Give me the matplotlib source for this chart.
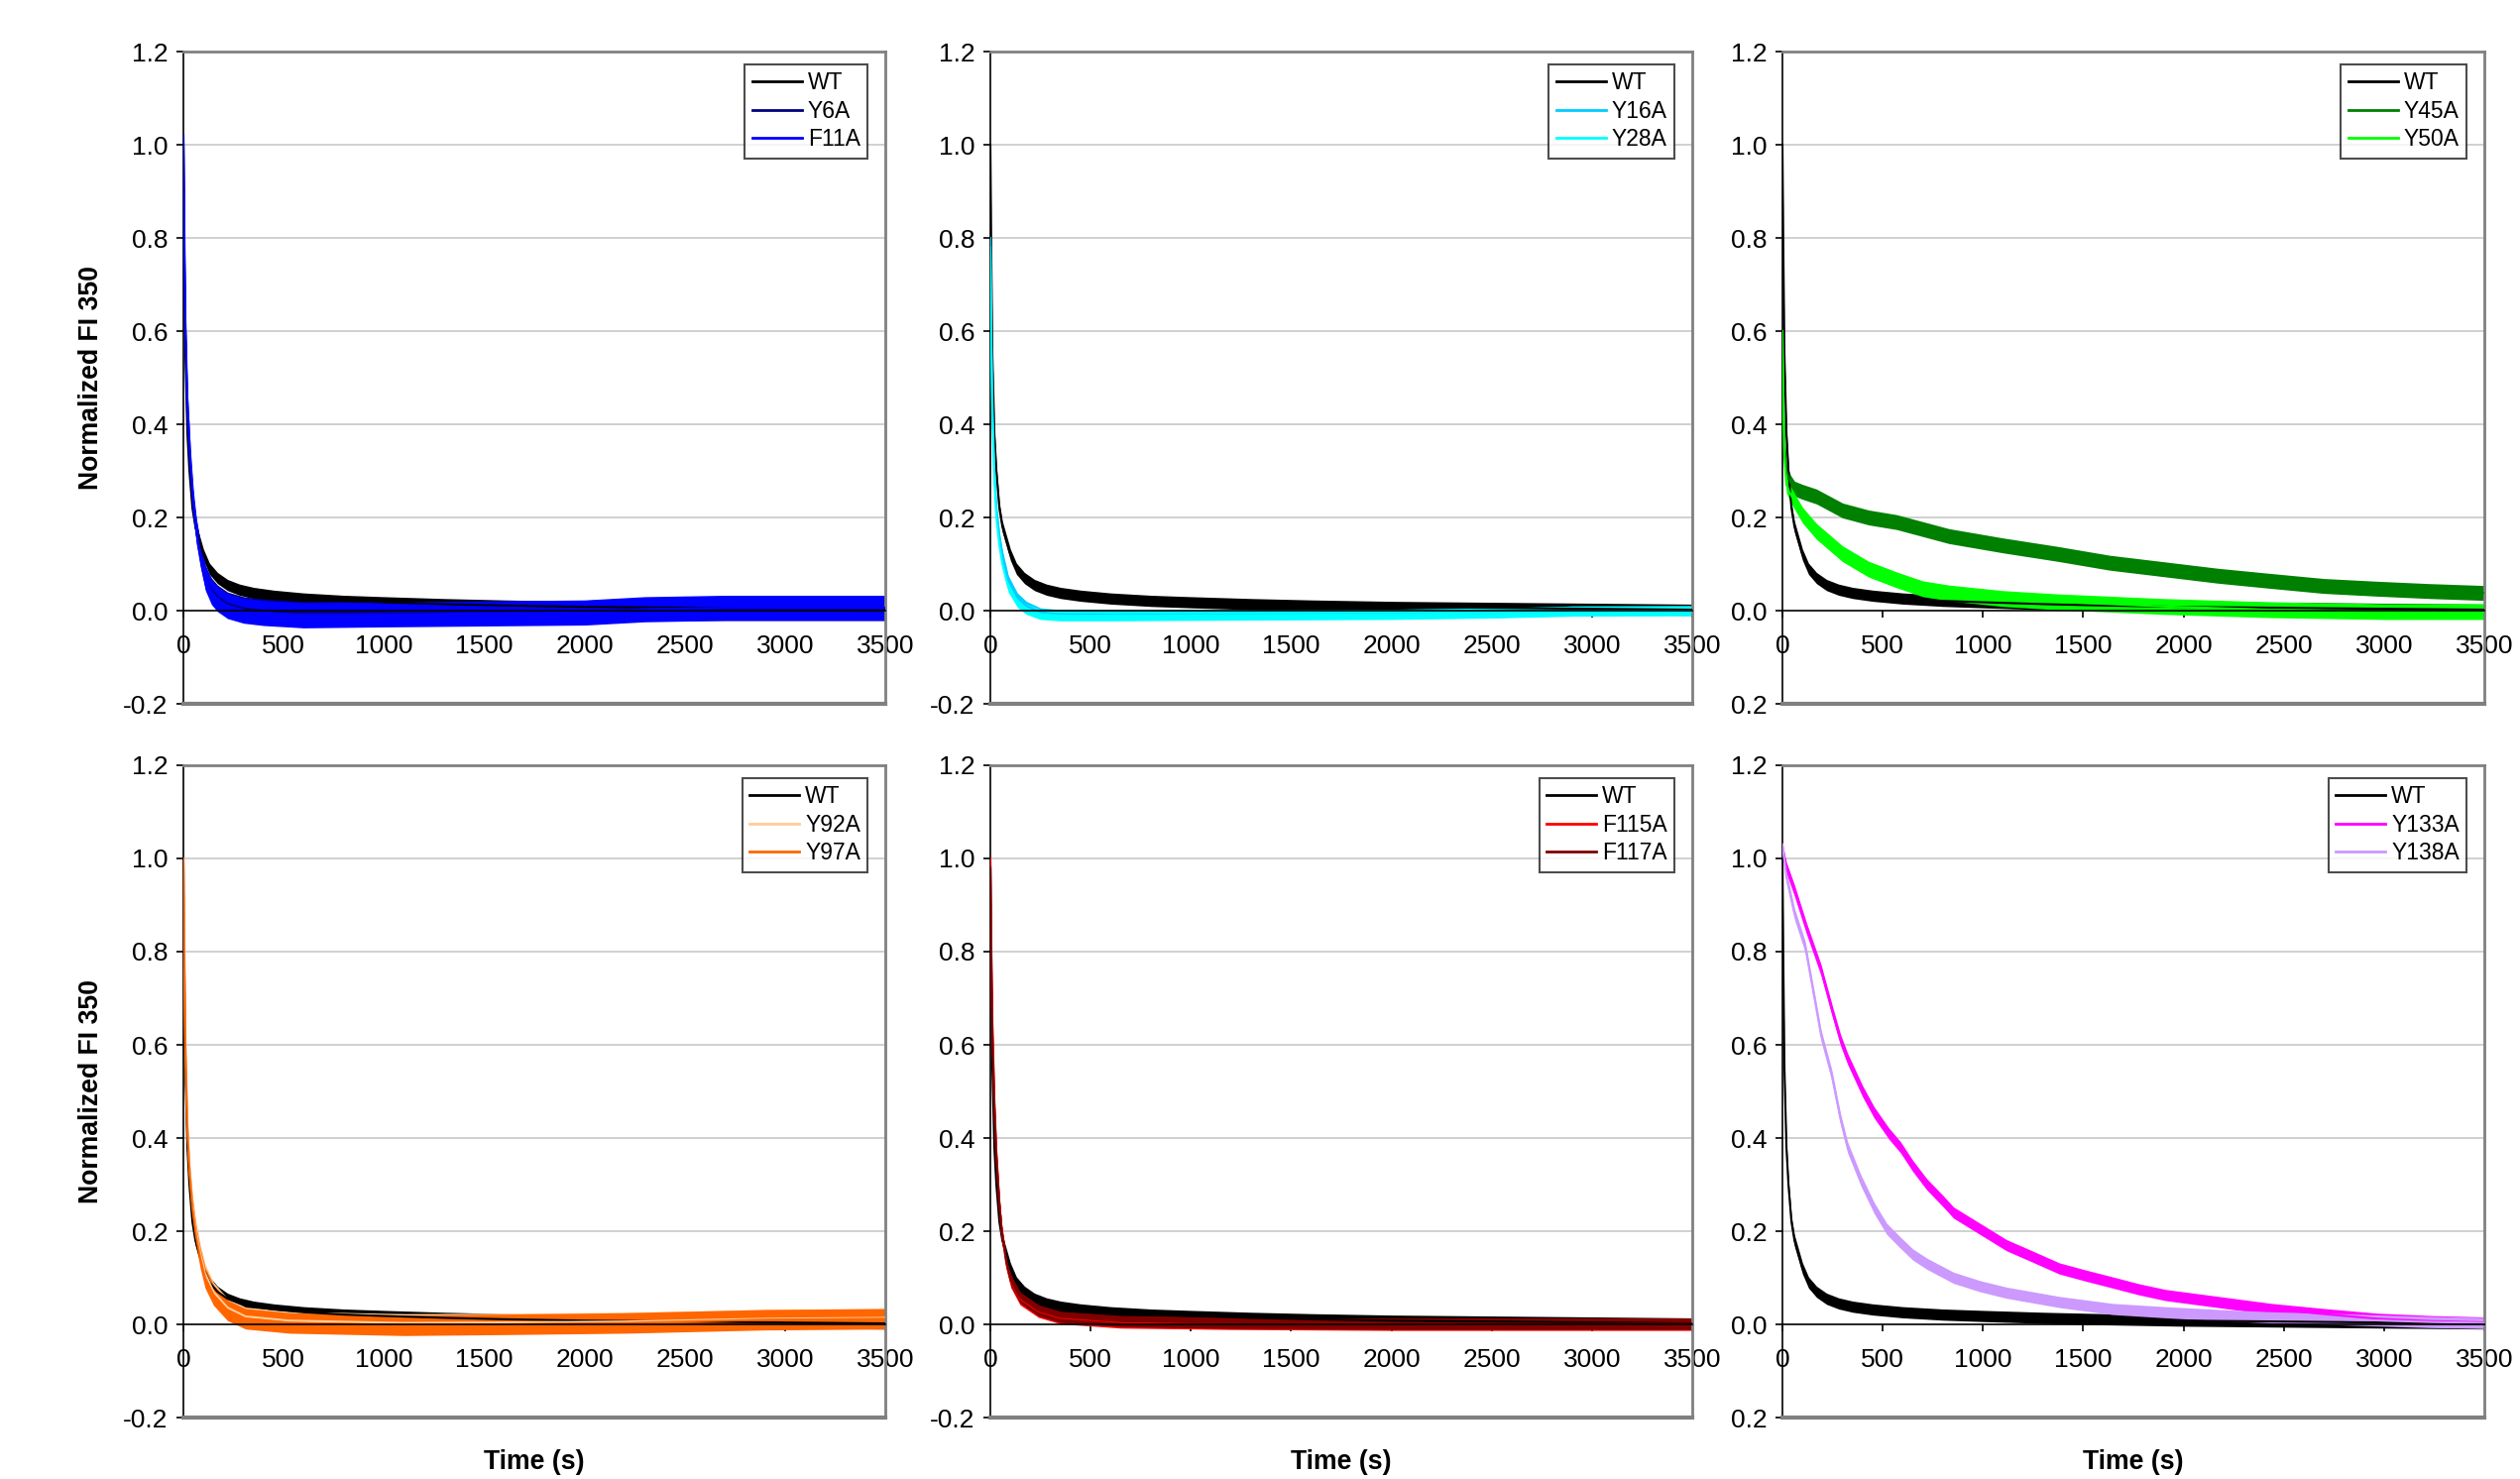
import numpy as np
import matplotlib.pyplot as plt

plt.rcParams['font.family'] = ['Liberation Sans', 'DejaVu Sans']

# ---- data (time in s, normalized FI 350) ----
wt_t = [0, 5, 10, 20, 30, 45, 60, 80, 100, 130, 170, 220, 280, 350, 450,
        600, 800, 1000, 1300, 1600, 2000, 2500, 3000, 3500]
wt_v = [1.0, 0.75, 0.55, 0.38, 0.3, 0.22, 0.18, 0.15, 0.12, 0.09, 0.07, 0.055,
        0.045, 0.038, 0.032, 0.026, 0.021, 0.018, 0.014, 0.011, 0.008, 0.006,
        0.004, 0.002]

y6a_t = [0, 5, 10, 20, 35, 50, 65, 85, 110, 140, 170, 220, 300, 400, 600,
         1000, 1500, 2000, 2300, 2700, 3100, 3500]
y6a_v = [1.02, 0.75, 0.6, 0.42, 0.3, 0.22, 0.17, 0.12, 0.07, 0.045, 0.03,
         0.015, 0.005, 0.0, -0.005, -0.005, -0.005, -0.003, 0.003, 0.004,
         0.004, 0.004]
f11a_t = y6a_t
f11a_v = [1.02, 0.8, 0.62, 0.45, 0.32, 0.23, 0.17, 0.12, 0.07, 0.04, 0.025,
          0.01, 0.0, -0.005, -0.01, -0.008, -0.006, -0.004, 0.003, 0.006,
          0.006, 0.006]

y16a_t = [0, 5, 10, 20, 30, 45, 60, 90, 135, 180, 250, 350, 600, 1000, 1500,
          2000, 2500, 2900, 3500]
y16a_v = [0.8, 0.6, 0.45, 0.3, 0.22, 0.16, 0.12, 0.065, 0.028, 0.01, -0.004,
          -0.008, -0.009, -0.009, -0.008, -0.007, -0.005, 0.0, 0.0]
y28a_t = y16a_t
y28a_v = [0.78, 0.55, 0.42, 0.28, 0.2, 0.14, 0.1, 0.05, 0.018, 0.003, -0.008,
          -0.011, -0.011, -0.01, -0.009, -0.008, -0.005, -0.001, 0.0]

y45a_t = [0, 5, 10, 20, 40, 60, 100, 170, 300, 430, 570, 830, 1100, 1370,
          1630, 1900, 2170, 2430, 2700, 2970, 3230, 3500]
y45a_v = [0.6, 0.45, 0.36, 0.3, 0.275, 0.262, 0.255, 0.245, 0.215, 0.2, 0.19,
          0.16, 0.14, 0.122, 0.103, 0.089, 0.075, 0.064, 0.053, 0.047, 0.042,
          0.038]
y50a_t = [0, 5, 10, 20, 40, 60, 100, 170, 300, 430, 570, 700, 830, 1100, 1370,
          1900, 2430, 3000, 3500]
y50a_v = [0.6, 0.42, 0.33, 0.27, 0.25, 0.235, 0.205, 0.17, 0.122, 0.089, 0.066,
          0.047, 0.038, 0.026, 0.019, 0.009, 0.002, -0.002, -0.002]

y97a_t = [0, 5, 10, 20, 30, 45, 63, 85, 108, 150, 220, 310, 530, 1100, 1600,
          2200, 2900, 3500]
y97a_v = [1.0, 0.78, 0.6, 0.42, 0.33, 0.25, 0.19, 0.14, 0.1, 0.063, 0.03,
          0.012, 0.003, -0.002, 0.0, 0.003, 0.01, 0.012]
y92a_t = y97a_t
y92a_v = [1.0, 0.78, 0.6, 0.43, 0.34, 0.26, 0.2, 0.15, 0.11, 0.07, 0.036,
          0.017, 0.008, 0.003, 0.004, 0.006, 0.012, 0.014]

f115a_t = [0, 5, 10, 20, 30, 45, 57, 80, 102, 148, 240, 350, 650, 1200, 2000,
           3500]
f115a_v = [1.0, 0.8, 0.65, 0.48, 0.37, 0.26, 0.2, 0.13, 0.092, 0.055, 0.028,
           0.014, 0.005, 0.002, 0.0, 0.0]
f117a_t = f115a_t
f117a_v = [0.98, 0.78, 0.63, 0.47, 0.36, 0.26, 0.2, 0.135, 0.095, 0.058, 0.03,
           0.016, 0.007, 0.003, 0.001, 0.001]

y133a_t = [0, 20, 61, 120, 193, 250, 290, 325, 400, 457, 530, 589, 650, 721,
           800, 853, 985, 1117, 1250, 1381, 1510, 1646, 1780, 1910, 2174, 2438,
           2702, 2966, 3230, 3500]
y133a_v = [1.02, 0.98, 0.93, 0.85, 0.76, 0.67, 0.61, 0.57, 0.5, 0.455, 0.41,
           0.38, 0.34, 0.3, 0.265, 0.24, 0.205, 0.17, 0.145, 0.12, 0.105, 0.09,
           0.075, 0.063, 0.048, 0.033, 0.022, 0.012, 0.007, 0.004]
y138a_t = [0, 20, 61, 114, 160, 193, 246, 290, 325, 390, 457, 520, 589, 650,
           721, 853, 985, 1117, 1381, 1646, 1910, 2174, 2438, 2702, 3000, 3230,
           3500]
y138a_v = [1.03, 0.96, 0.88, 0.81, 0.7, 0.62, 0.535, 0.44, 0.38, 0.31, 0.25,
           0.205, 0.175, 0.15, 0.13, 0.1, 0.082, 0.068, 0.048, 0.033, 0.026,
           0.02, 0.015, 0.012, 0.008, 0.005, 0.003]

# noise half-widths (scatter of each trace)
panels = [
    [('WT', wt_t, wt_v, 'black', 0.012), ('Y6A', y6a_t, y6a_v, '#000080', 0.025),
     ('F11A', f11a_t, f11a_v, '#0000FF', 0.027)],
    [('WT', wt_t, wt_v, 'black', 0.012), ('Y16A', y16a_t, y16a_v, '#00CCFF', 0.01),
     ('Y28A', y28a_t, y28a_v, '#00FFFF', 0.011)],
    [('WT', wt_t, wt_v, 'black', 0.012), ('Y45A', y45a_t, y45a_v, '#008000', 0.016),
     ('Y50A', y50a_t, y50a_v, '#00FF00', 0.017)],
    [('WT', wt_t, wt_v, 'black', 0.012), ('Y92A', y92a_t, y92a_v, '#FFCC99', 0.02),
     ('Y97A', y97a_t, y97a_v, '#FF6600', 0.022)],
    [('WT', wt_t, wt_v, 'black', 0.012), ('F115A', f115a_t, f115a_v, '#FF0000', 0.013),
     ('F117A', f117a_t, f117a_v, '#800000', 0.012)],
    [('WT', wt_t, wt_v, 'black', 0.012), ('Y133A', y133a_t, y133a_v, '#FF00FF', 0.012),
     ('Y138A', y138a_t, y138a_v, '#CC99FF', 0.012)],
]

yticks = [-0.2, 0.0, 0.2, 0.4, 0.6, 0.8, 1.0, 1.2]
ylabels_left = ['-0.2', '0.0', '0.2', '0.4', '0.6', '0.8', '1.0', '1.2']
ylabels_right = ['0.2', '0.0', '0.2', '0.4', '0.6', '0.8', '1.0', '1.2']
xticks = [0, 500, 1000, 1500, 2000, 2500, 3000, 3500]

W, H = 2542, 1492
fig = plt.figure(figsize=(W / 100, H / 100), dpi=100)

lefts = [185, 999, 1798]
tops = [52, 772]
aw, ah = 708, 658

for i, series in enumerate(panels):
    r, c = divmod(i, 3)
    ax = fig.add_axes([lefts[c] / W, 1 - (tops[r] + ah) / H, aw / W, ah / H])
    ax.set_xlim(0, 3500)
    ax.set_ylim(-0.2, 1.2)

    for name, t, v, col, nz in series:
        t = np.array(t)
        v = np.array(v)
        ax.fill_between(t, v - nz, v + nz, color=col, lw=0, zorder=2)
        ax.plot(t, v, color=col, lw=1.5, label=name, zorder=3)

    for g in [0.2, 0.4, 0.6, 0.8, 1.0]:
        ax.axhline(g, color='#c8c8c8', lw=1.2, zorder=1)

    ax.spines['bottom'].set_position(('data', 0))
    ax.spines['bottom'].set_color('black')
    ax.spines['bottom'].set_linewidth(1.2)
    ax.spines['bottom'].set_zorder(4)
    ax.spines['left'].set_color('black')
    ax.spines['left'].set_linewidth(1.2)
    for s in ['top', 'right']:
        ax.spines[s].set_color('#808080')
        ax.spines[s].set_linewidth(2)
    ax.plot([0, 1], [0, 0], transform=ax.transAxes, color='#808080', lw=3,
            clip_on=False, zorder=5)

    ax.set_xticks(xticks)
    ax.set_xticklabels([str(x) for x in xticks])
    ax.set_yticks(yticks)
    ax.set_yticklabels(ylabels_right if c == 2 else ylabels_left)
    ax.tick_params(axis='x', direction='out', length=5, width=1.2, pad=12,
                   labelsize=19)
    ax.tick_params(axis='y', direction='out', length=5, width=1.2, pad=6,
                   labelsize=19)

    leg = ax.legend(loc='upper right', bbox_to_anchor=(0.975, 0.98),
                    borderaxespad=0, fontsize=16.5, fancybox=False,
                    handlelength=2.2, handletextpad=0.25, labelspacing=0.24,
                    borderpad=0.32)
    leg.get_frame().set_edgecolor('#202020')
    leg.get_frame().set_linewidth(1.5)
    for ln in leg.get_lines():
        ln.set_linewidth(2)

    if c == 0:
        ax.text(-0.131, 0.5, 'Normalized FI 350', transform=ax.transAxes,
                rotation=90, ha='center', va='center', fontsize=19.2,
                fontweight='bold')
    if r == 1:
        ax.text(0.5, -0.068, 'Time (s)', transform=ax.transAxes,
                ha='center', va='center', fontsize=19.2, fontweight='bold')

fig.savefig('out.png', dpi=100)
